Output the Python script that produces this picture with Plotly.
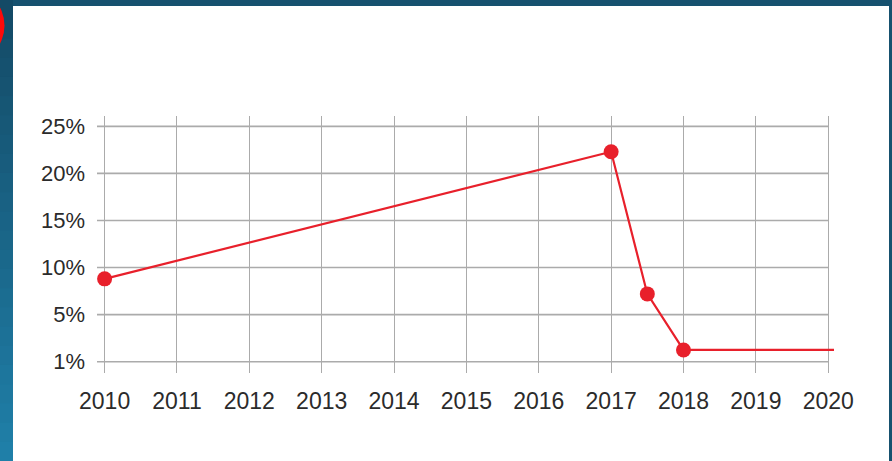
import plotly.graph_objects as go

# Rate over time (percent)
years = [2010, 2017, 2017.5, 2018, 2020.08]
rates = [8.8, 22.3, 7.2, 1.25, 1.25]
marker_years = [2010, 2017, 2017.5, 2018]
marker_rates = [8.8, 22.3, 7.2, 1.25]

x_ticks = list(range(2010, 2021))
y_tickvals = [0, 5, 10, 15, 20, 25]
y_ticktext = ["1%", "5%", "10%", "15%", "20%", "25%"]

W, H = 892, 461
ML, MR, MT, MB = 97, 58, 116, 88
PW, PH = W - ML - MR, H - MT - MB
XR = [2009.895, 2020.08]
YR = [-1.2, 26.1]


def px_x(p):
    return (p - ML) / PW


def px_y(p):
    return (H - MB - p) / PH


RED = "#e8202b"
GRID = "#ababab"

shapes = []
# blue frame: left strip as a vertical gradient
top_c = (0x14, 0x4a, 0x66)
bot_c = (0x1f, 0x7f, 0xa8)
n = 24
for i in range(n):
    t = i / (n - 1)
    c = tuple(int(round(a + (b - a) * t)) for a, b in zip(top_c, bot_c))
    y0 = i * H / n
    y1 = (i + 1) * H / n + 1
    shapes.append(dict(type="rect", xref="paper", yref="paper", layer="below",
                       x0=px_x(-2), x1=px_x(13), y0=px_y(y1), y1=px_y(y0),
                       fillcolor="rgb(%d,%d,%d)" % c, line=dict(width=0)))
# red badge peeking in from the corner
shapes.append(dict(type="circle", xref="paper", yref="paper", layer="below",
                   x0=px_x(-71), x1=px_x(4.5), y0=px_y(63.5), y1=px_y(-12.5),
                   fillcolor="#ff0a0a", line=dict(width=0)))
# white panel
shapes.append(dict(type="rect", xref="paper", yref="paper", layer="below",
                   x0=px_x(13), x1=px_x(889), y0=px_y(H + 5), y1=px_y(6),
                   fillcolor="#ffffff", line=dict(width=0)))
# horizontal gridlines stop at the last year
for v in y_tickvals:
    shapes.append(dict(type="line", xref="x", yref="y", layer="below",
                       x0=XR[0], x1=2020, y0=v, y1=v,
                       line=dict(color=GRID, width=1.6)))

fig = go.Figure()
fig.add_trace(go.Scatter(x=years, y=rates, mode="lines",
                         line=dict(color=RED, width=2.2), hoverinfo="skip"))
fig.add_trace(go.Scatter(x=marker_years, y=marker_rates, mode="markers",
                         marker=dict(color=RED, size=15, symbol="circle"),
                         cliponaxis=False))

fig.update_layout(
    width=W, height=H,
    margin=dict(l=ML, r=MR, t=MT, b=MB, pad=0),
    paper_bgcolor="#16516f",
    plot_bgcolor="rgba(0,0,0,0)",
    showlegend=False,
    shapes=shapes,
    xaxis=dict(range=XR, tickmode="array", tickvals=x_ticks,
               showgrid=True, gridcolor=GRID, gridwidth=1.4,
               zeroline=False, showline=False, ticks="",
               ticklabelstandoff=12,
               tickfont=dict(family="Liberation Sans, Arial", size=23, color="#2b2b2b")),
    yaxis=dict(range=YR, tickmode="array", tickvals=y_tickvals, ticktext=y_ticktext,
               showgrid=False, zeroline=False, showline=False, ticks="",
               ticklabelstandoff=11,
               tickfont=dict(family="Liberation Sans, Arial", size=22, color="#2b2b2b")),
)

fig.write_html("out.html")
